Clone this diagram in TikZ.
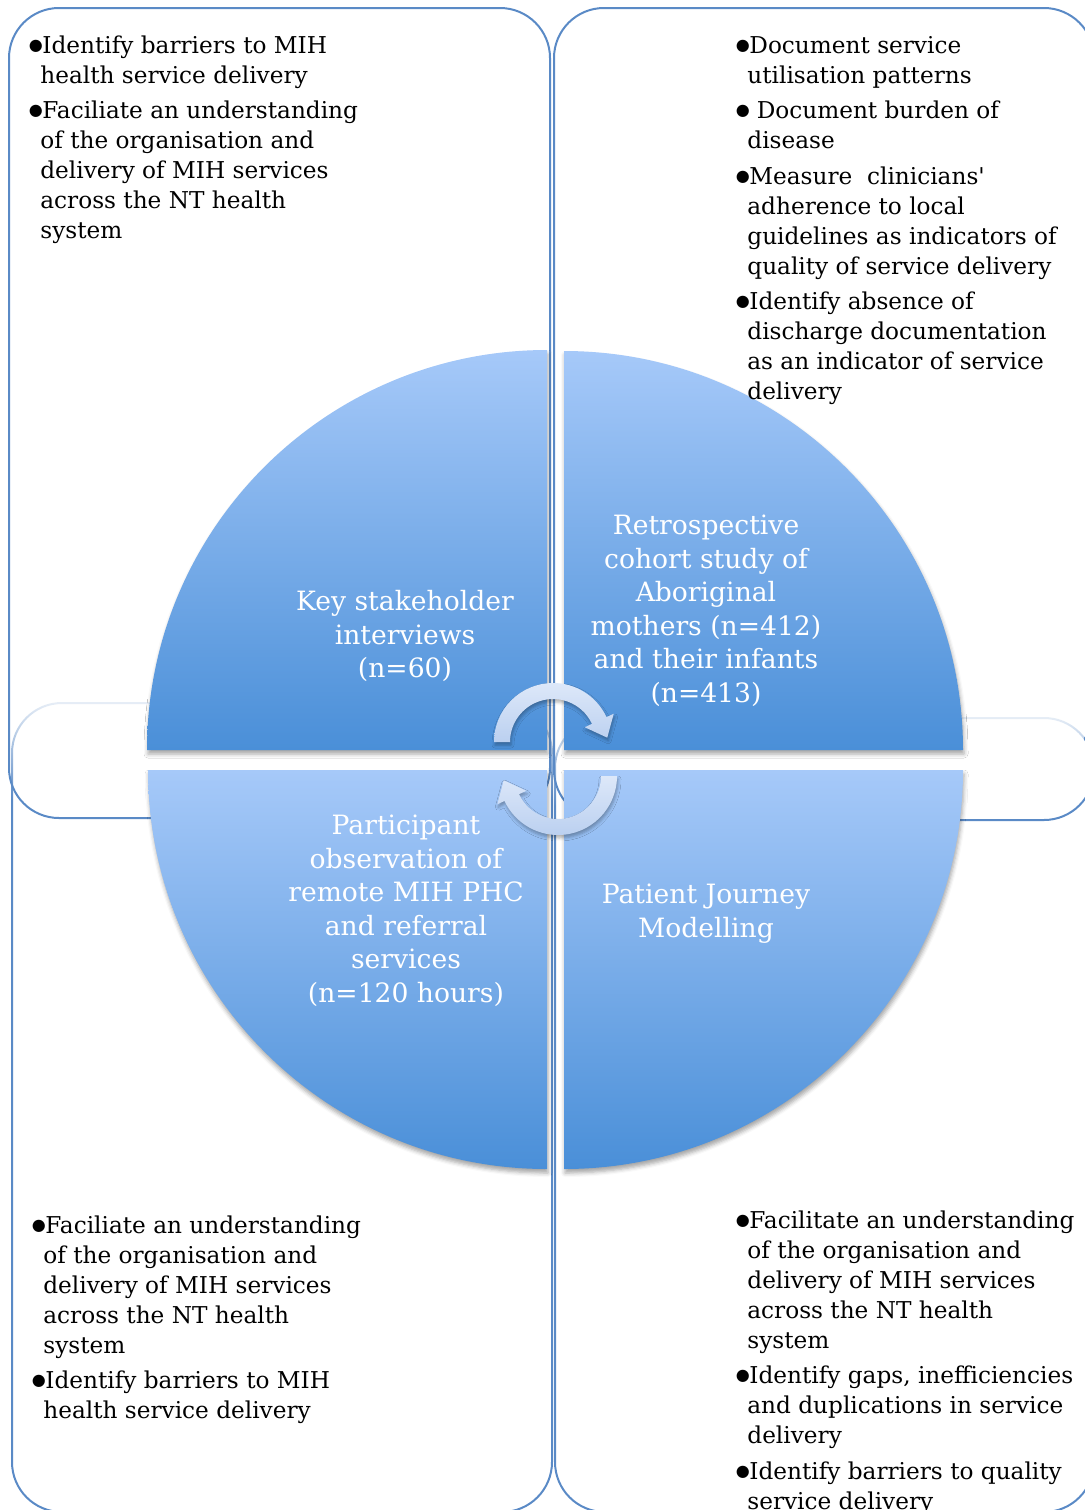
\documentclass[tikz,border=0pt]{standalone}
\usepackage{fontspec}
\setmainfont{DejaVu Serif}
\newfontfamily\dotfont{DejaVu Sans}
\usetikzlibrary{calc,fadings,shadows.blur}

\definecolor{boxline}{HTML}{5A8AC6}
\definecolor{wedgetop}{HTML}{A6C9F9}
\definecolor{wedgebot}{HTML}{4A8FD8}
\definecolor{arrowtop}{HTML}{DDE8F9}
\definecolor{arrowbot}{HTML}{BBD0F0}

\tikzfading[name=fadeup, top color=transparent!12, bottom color=transparent!100]

\newcommand{\bl}{\makebox[10pt][l]{\hspace{3.2pt}\raisebox{1.5pt}{\dotfont\fontsize{8}{8}\selectfont ●}}}
\newcommand{\ind}{\hspace*{9pt}}

\tikzset{
  quadbox/.style={draw=boxline, line width=1pt, rounded corners=25pt},
  wedge/.style={top color=wedgetop, bottom color=wedgebot,
    blur shadow={shadow xshift=0.5pt, shadow yshift=-2pt, shadow blur radius=2pt, shadow opacity=35}},
  cycarrow/.style={top color=arrowtop, bottom color=arrowbot,
    blur shadow={shadow xshift=0.5pt, shadow yshift=-1.5pt, shadow blur radius=1.5pt, shadow opacity=30}},
  listtext/.style={anchor=north west, inner sep=0pt, align=left, text=black,
    font=\fontsize{11.6}{15}\selectfont},
  wedgetext/.style={anchor=north, inner sep=0pt, align=center, text=white,
    font=\fontsize{13.3}{16.75}\selectfont}
}

\begin{document}
\begin{tikzpicture}[x=0.5pt, y=-0.5pt]
  \useasboundingbox (0,0) rectangle (1084,1510);

  \draw[quadbox] (12,703) rectangle (552,1512);
  \draw[quadbox] (555,718) rectangle (1094,1512);
  \fill[white, path fading=fadeup] (10.5,699) rectangle (553.5,800);
  \fill[white, path fading=fadeup] (553.5,714) rectangle (1084,806);
  \draw[quadbox] (9,8) rectangle (550,818);
  \draw[quadbox] (554,8) rectangle (1094,820);

  \path[wedge] (547,750) -- (147,750) arc[start angle=180, end angle=270, radius=400] -- cycle;
  \path[wedge] (564,750) -- (963,750) arc[start angle=0, end angle=-90, radius=399] -- cycle;
  \path[wedge] (547,770) -- (148,770) arc[start angle=180, end angle=90, radius=399] -- cycle;
  \path[wedge] (564,770) -- (963,770) arc[start angle=0, end angle=90, radius=399] -- cycle;

  \coordinate (ta) at (553,742);
  \coordinate (ba) at (558,776);
  \path[cycarrow] ($(ta)+(180:59)$) arc[start angle=180, end angle=335, radius=59]
    -- ($(ta)+(335:67)$) -- ($(ta)+(335:51)+(65:19)$) -- ($(ta)+(335:35)$)
    -- ($(ta)+(335:43)$) arc[start angle=335, end angle=180, radius=43] -- cycle;
  \path[cycarrow] ($(ba)+(0:59)$) arc[start angle=0, end angle=155, radius=59]
    -- ($(ba)+(155:67)$) -- ($(ba)+(155:51)+(245:19)$) -- ($(ba)+(155:35)$)
    -- ($(ba)+(155:43)$) arc[start angle=155, end angle=0, radius=43] -- cycle;

  \node[wedgetext] (interviews) at (405,587) {\strut Key stakeholder\\ interviews\\ (n=60)};
  \node[wedgetext] (cohort) at (706,511) {\strut Retrospective\\ cohort study of\\ Aboriginal\\
    mothers (n=412)\\ and their infants\\ (n=413)};
  \node[wedgetext] (observation) at (406,811) {\strut Participant\\ observation of\\ remote MIH PHC\\
    and referral\\ services\\ (n=120 hours)};
  \node[wedgetext] (journey) at (706,880) {\strut Patient Journey\\ Modelling};

  \node[listtext] (tlnotes) at (22,32) {\strut\bl Identify barriers to MIH\\
    \ind health service delivery\\[2.75pt]
    \bl Faciliate an understanding\\
    \ind of the organisation and\\
    \ind delivery of MIH services\\
    \ind across the NT health\\
    \ind system};
  \node[listtext] (trnotes) at (729,32) {\strut\bl Document service\\
    \ind utilisation patterns\\[2.75pt]
    \bl\ Document burden of\\
    \ind disease\\[2.75pt]
    \bl Measure\ \ clinicians\textquotesingle\\
    \ind adherence to local\\
    \ind guidelines as indicators of\\
    \ind quality of service delivery\\[2.75pt]
    \bl Identify absence of\\
    \ind discharge documentation\\
    \ind as an indicator of service\\
    \ind delivery};
  \node[listtext] (blnotes) at (25,1212) {\strut\bl Faciliate an understanding\\
    \ind of the organisation and\\
    \ind delivery of MIH services\\
    \ind across the NT health\\
    \ind system\\[2.75pt]
    \bl Identify barriers to MIH\\
    \ind health service delivery};
  \node[listtext] (brnotes) at (729,1207) {\strut\bl Facilitate an understanding\\
    \ind of the organisation and\\
    \ind delivery of MIH services\\
    \ind across the NT health\\
    \ind system\\[2.75pt]
    \bl Identify gaps, inefficiencies\\
    \ind and duplications in service\\
    \ind delivery\\[2.75pt]
    \bl Identify barriers to quality\\
    \ind service delivery};
\end{tikzpicture}
\end{document}
